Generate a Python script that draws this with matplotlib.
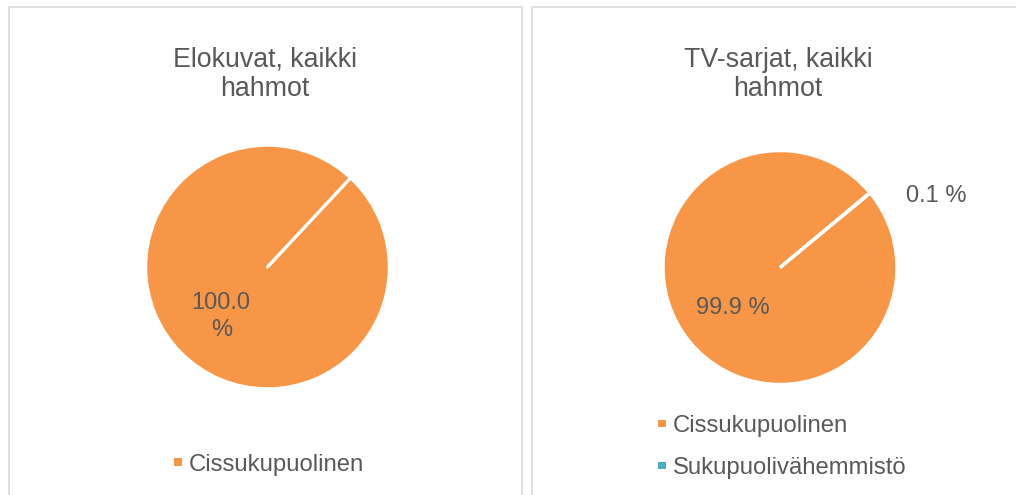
import matplotlib.pyplot as plt
from matplotlib.patches import Rectangle
import numpy as np

# data
movie_categories = ['Cissukupuolinen']
movie_values = [100.0]
tv_categories = ['Cissukupuolinen', 'Sukupuolivähemmistö']
tv_values = [99.9, 0.1]
titles = [['Elokuvat, kaikki', 'hahmot'], ['TV-sarjat, kaikki', 'hahmot']]

colors = ['#F79646', '#4BACC6']
text_color = '#595959'
border_color = '#D9D9D9'

W, H = 1016, 495
plt.rcParams['font.family'] = ['Liberation Sans', 'DejaVu Sans']

fig = plt.figure(figsize=(W / 100, H / 100), dpi=100)


def fx(px):
    return px / W


def fy(py):
    # pixel from top -> figure fraction from bottom
    return 1 - py / H


# panel borders
for x0, x1 in [(9, 522), (532, 1030)]:
    fig.add_artist(Rectangle((fx(x0), fy(510)), fx(x1 - x0), (510 - 7) / H,
                             transform=fig.transFigure, fill=False,
                             edgecolor=border_color, linewidth=1.2))


def pie_axes(cx, cy, r):
    return fig.add_axes([fx(cx - r), fy(cy + r), fx(2 * r), 2 * r / H])


def draw_pie(ax, values, startangle, pctfmt, pctdist):
    wedges, _, autotexts = ax.pie(
        values, colors=colors[:len(values)], startangle=startangle,
        counterclock=False, radius=1.0,
        autopct=pctfmt, pctdistance=pctdist,
        wedgeprops=dict(edgecolor='white', linewidth=2.2),
        textprops=dict(color=text_color, fontsize=17))
    ax.set_xlim(-1.01, 1.01)
    ax.set_ylim(-1.01, 1.01)
    return wedges, autotexts


# left pie: movies
ax1 = pie_axes(267.5, 267, 123)
w1, t1 = draw_pie(ax1, movie_values, 47, lambda p: f'{p:.1f}\n%', 0.53)
# separator line of the single full slice
a = np.deg2rad(47)
ax1.plot([0, np.cos(a)], [0, np.sin(a)], color='white', lw=2.4,
         solid_capstyle='round')
for t in t1:
    t.set_linespacing(1.3)
    t.set_position((-0.38, -0.41))

# right pie: TV series
ax2 = pie_axes(780, 267.5, 118)
w2, t2 = draw_pie(ax2, tv_values, 39.5, lambda p: f'{p:.1f} %', 0.52)
t2[0].set_position((-0.40, -0.35))
t2[1].set_position((1.335, 0.615))

# titles
for (line1, line2), cx in zip(titles, [265, 778]):
    fig.text(fx(cx), fy(66.7), line1, ha='center', va='baseline',
             fontsize=19.3, color=text_color)
    fig.text(fx(cx), fy(95.7), line2, ha='center', va='baseline',
             fontsize=19.3, color=text_color)


# legends
def draw_legend(cats, mx, rows_y):
    s = 7.5
    for i, (cat, y) in enumerate(zip(cats, rows_y)):
        fig.add_artist(Rectangle((fx(mx - s / 2), fy(y + s / 2)), fx(s), s / H,
                                 transform=fig.transFigure,
                                 facecolor=colors[i], edgecolor='none'))
        fig.text(fx(mx + 11), fy(y + 8.5), cat, ha='left', va='baseline',
                 fontsize=17.2, color=text_color)


draw_legend(movie_categories, 178, [462])
draw_legend(tv_categories, 662, [423.5, 465.5])

fig.savefig('out.png', dpi=100)
